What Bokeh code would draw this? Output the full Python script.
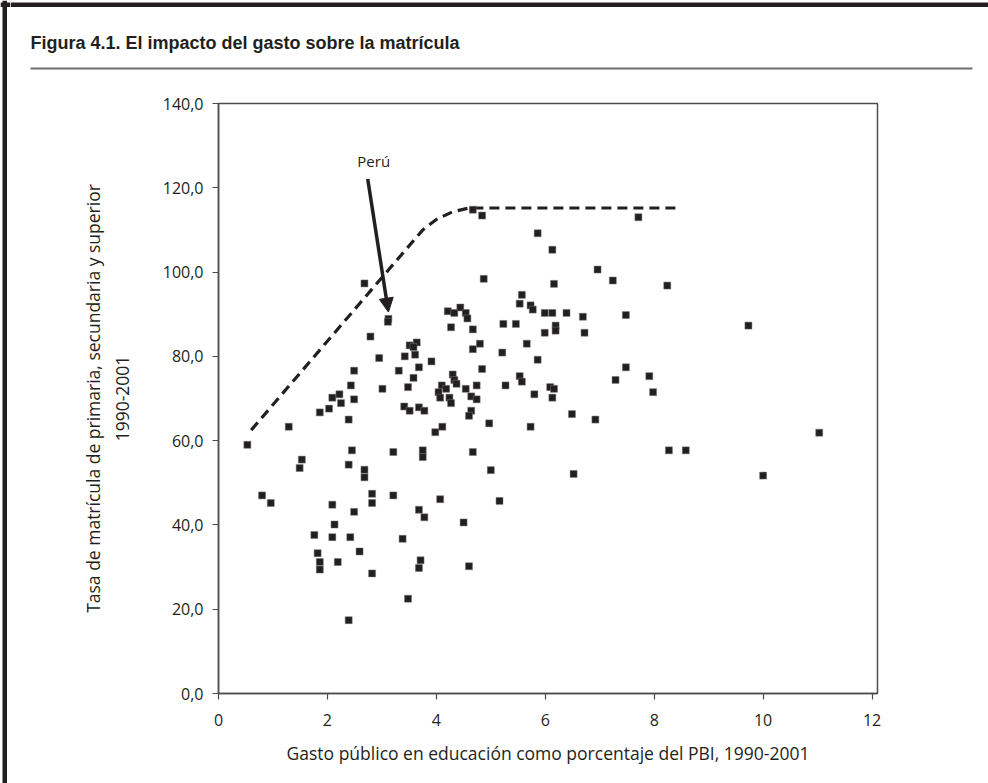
from bokeh.plotting import figure
from bokeh.layouts import column, row
from bokeh.models import Label, Arrow, NormalHead, FixedTicker, Range1d
from bokeh.core.properties import value
from bokeh.embed import file_html
from bokeh.resources import INLINE

# ---- data ----
gasto = [2.68, 3.12, 3.11, 2.79, 2.95, 3.51, 3.64, 3.58, 3.61, 3.42, 3.91, 3.31, 3.68, 3.58, 3.48,
         3.01, 2.49, 2.43, 2.49, 2.22, 2.09, 2.25, 2.03, 1.86, 2.39, 1.29, 0.53, 3.41, 3.51, 3.68,
         3.78, 3.98, 2.45, 3.21, 3.75, 3.75, 1.53, 1.49, 2.39, 2.68,
         2.68, 0.80, 0.96, 2.09, 2.82, 2.82, 3.21, 2.49, 3.68, 3.78, 2.13, 1.76, 2.09, 2.42, 3.38,
         2.59, 1.82, 1.86, 1.86, 2.19, 2.82, 3.71, 3.68, 3.48, 2.39,
         4.67, 4.84, 7.71, 5.86, 6.13, 6.96, 4.87, 6.16, 7.24, 8.24,
         5.57, 5.53, 5.73, 5.77, 5.99, 6.13, 6.39, 6.69, 7.48, 6.19, 6.19, 5.99, 6.72, 5.23, 5.46,
         4.21, 4.44, 4.33, 4.54, 4.57, 4.27, 4.67, 4.80, 4.67, 5.66, 5.21, 5.86, 4.84, 7.48, 7.29,
         7.91, 7.98, 4.30, 4.33, 4.37, 4.10, 4.18, 4.04, 4.07, 4.24, 4.27, 4.54, 4.74, 4.64, 4.74,
         5.27, 5.53, 5.57, 6.09, 6.16, 5.80, 6.13, 4.64, 4.60, 6.49, 6.92, 4.97, 5.73, 4.11, 4.67,
         8.27, 5.00, 6.52,
         4.07, 5.16, 4.50, 4.60,
         9.73, 11.03, 8.58, 10.00]
matricula = [97.3, 88.9, 88.2, 84.7, 79.6, 82.6, 83.3, 82.2, 80.4, 80.0, 78.8, 76.6, 77.4, 74.9, 72.7,
             72.3, 76.6, 73.1, 69.8, 71.0, 70.2, 68.9, 67.6, 66.7, 65.0, 63.3, 59.0, 68.1, 67.1, 67.9,
             67.1, 62.0, 57.7, 57.3, 57.7, 56.1, 55.5, 53.5, 54.3, 53.1,
             51.3, 47.0, 45.2, 44.8, 47.4, 45.2, 47.0, 43.1, 43.6, 41.8, 40.1, 37.6, 37.1, 37.1, 36.7,
             33.7, 33.3, 31.2, 29.4, 31.2, 28.5, 31.6, 29.8, 22.5, 17.4,
             114.8, 113.4, 113.0, 109.2, 105.3, 100.6, 98.4, 97.2, 98.0, 96.8,
             94.6, 92.5, 92.1, 91.1, 90.3, 90.3, 90.3, 89.4, 89.8, 87.3, 86.1, 85.6, 85.6, 87.7, 87.7,
             90.7, 91.6, 90.3, 90.3, 89.0, 86.9, 86.4, 83.0, 81.7, 83.0, 80.9, 79.2, 77.0, 77.4, 74.4,
             75.3, 71.5, 75.7, 74.4, 73.5, 73.1, 72.3, 71.5, 70.2, 70.2, 68.9, 72.3, 73.1, 70.5, 69.8,
             73.1, 75.3, 74.0, 72.7, 72.3, 71.0, 70.2, 67.1, 65.9, 66.3, 65.0, 64.1, 63.3, 63.3, 57.3,
             57.7, 53.0, 52.1,
             46.1, 45.7, 40.6, 30.2,
             87.3, 61.9, 57.7, 51.7]

frontera_x = [0.60, 3.75, 4.00, 4.30, 4.60, 8.50]
frontera_y = [62.5, 110.0, 112.5, 114.3, 115.2, 115.2]

peru_label = "Perú"
peru_label_pos = (2.85, 126.3)
peru_arrow = (2.74, 122.1, 3.12, 90.5)

x_ticks = [0, 2, 4, 6, 8, 10, 12]
y_ticks = [0, 20, 40, 60, 80, 100, 120, 140]
y_tick_labels = ["0,0", "20,0", "40,0", "60,0", "80,0", "100,0", "120,0", "140,0"]

titulo = "Figura 4.1. El impacto del gasto sobre la matrícula"
x_titulo = "Gasto público en educación como porcentaje del PBI, 1990-2001"
y_titulo = "Tasa de matrícula de primaria, secundaria y superior\n1990-2001"

INK = "#231f20"
AXIS = "#4d4d4d"
RULE = "#6d6e71"
FONT = "Open Sans"

PAGE_W, PAGE_H = 988, 783
STRIP_W = 10
HEAD_H = 84
BODY_H = PAGE_H - HEAD_H


def bare(width, height, xr, yr):
    f = figure(width=width, height=height, x_range=xr, y_range=yr,
               output_backend="svg", toolbar_location=None, min_border=0,
               x_axis_location=None, y_axis_location=None)
    f.outline_line_color = None
    f.grid.visible = False
    f.background_fill_color = "white"
    f.border_fill_color = "white"
    return f


# ---- left strip: page border (page coordinates) ----
strip = bare(STRIP_W, PAGE_H, Range1d(0, STRIP_W), Range1d(PAGE_H, 0))
strip.quad(left=[2], right=[6.5], top=[0], bottom=[PAGE_H], fill_color=INK, line_color=None)
strip.quad(left=[0], right=[STRIP_W], top=[2], bottom=[6.5], fill_color=INK, line_color=None)

# ---- header: title, rule and top border (page coordinates) ----
head = bare(PAGE_W - STRIP_W, HEAD_H, Range1d(STRIP_W, PAGE_W), Range1d(HEAD_H, 0))
head.text(x=[30], y=[42.5], text=[titulo], text_font=value("Liberation Sans"),
          text_font_style="bold", text_font_size="18px", text_color=INK,
          text_baseline="alphabetic", text_align="left")
head.quad(left=[30], right=[972], top=[67], bottom=[69], fill_color=RULE, line_color=None)
head.quad(left=[STRIP_W], right=[PAGE_W], top=[2], bottom=[6.5], fill_color=INK, line_color=None)

# ---- main chart ----
p = figure(width=PAGE_W - STRIP_W, height=BODY_H, x_range=Range1d(0, 12.10), y_range=Range1d(0, 140),
           output_backend="svg", toolbar_location=None,
           min_border_left=208, min_border_right=111, min_border_top=19, min_border_bottom=90)
p.background_fill_color = "white"
p.border_fill_color = "white"
p.outline_line_color = AXIS
p.outline_line_width = 1.5
p.xgrid.visible = False
p.ygrid.visible = False

p.xaxis.ticker = FixedTicker(ticks=x_ticks)
p.yaxis.ticker = FixedTicker(ticks=y_ticks)
p.yaxis.major_label_overrides = {t: l for t, l in zip(y_ticks, y_tick_labels)}
for ax in (p.xaxis, p.yaxis):
    ax.minor_tick_line_color = None
    ax.axis_line_color = AXIS
    ax.axis_line_width = 1.5
    ax.major_tick_line_color = AXIS
    ax.major_tick_line_width = 1.2
    ax.major_tick_in = 0
    ax.major_tick_out = 6
    ax.major_label_text_font = FONT
    ax.major_label_text_font_size = "16px"
    ax.major_label_text_color = INK
    ax.axis_label_text_font = FONT
    ax.axis_label_text_font_size = "17.5px"
    ax.axis_label_text_font_style = "normal"
    ax.axis_label_text_color = INK
p.xaxis.major_label_standoff = 14
p.yaxis.major_label_standoff = 9
p.xaxis.axis_label = x_titulo
p.yaxis.axis_label = y_titulo
p.xaxis.axis_label_standoff = 12
p.yaxis.axis_label_standoff = 26

p.line(frontera_x, frontera_y, line_color=INK, line_width=3.2, line_dash="10 6")
p.scatter(gasto, matricula, marker="square", size=7, fill_color=INK, line_color="#777777",
          line_width=0.5)

p.add_layout(Arrow(end=NormalHead(size=14, fill_color=INK, line_color=INK),
                   x_start=peru_arrow[0], y_start=peru_arrow[1],
                   x_end=peru_arrow[2], y_end=peru_arrow[3],
                   line_color=INK, line_width=3.5))
p.add_layout(Label(x=peru_label_pos[0], y=peru_label_pos[1], text=peru_label,
                   text_font=FONT, text_font_size="15px", text_color=INK,
                   text_align="center", text_baseline="middle"))

page = row(strip, column(head, row(p, spacing=0), spacing=0), spacing=0)
open("out.html", "w").write(file_html(page, INLINE))
